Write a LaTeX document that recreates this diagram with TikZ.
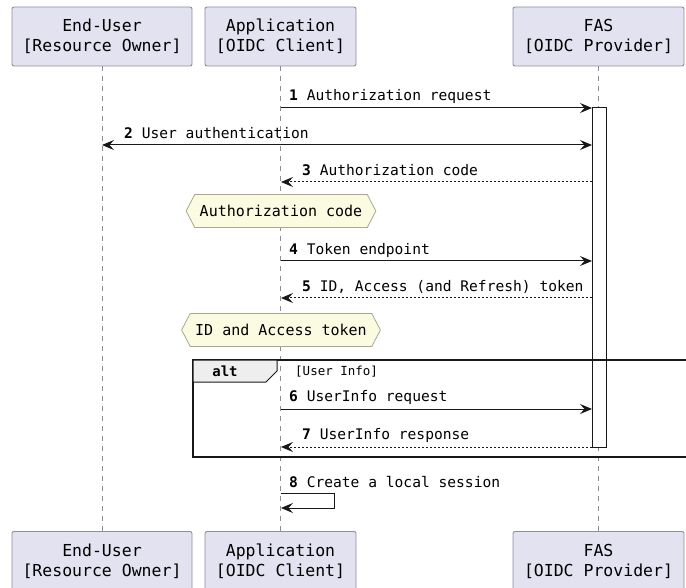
\documentclass[tikz,border=0pt]{standalone}
\usepackage{fontspec}
\setmonofont{DejaVu Sans Mono}
\usepackage{xcolor}
\usetikzlibrary{positioning,arrows.meta,shapes.symbols}
\definecolor{partbg}{HTML}{E2E2F0}
\definecolor{partbd}{HTML}{8E8E98}
\definecolor{notebg}{HTML}{FBFBE2}
\definecolor{notebd}{HTML}{A8A890}
\definecolor{tabbg}{HTML}{EEEEEE}
\definecolor{ink}{HTML}{181818}

\begin{document}
\begin{tikzpicture}[x=1pt, y=-1pt,
  seqtip/.tip={Stealth[length=12pt,width=10pt,inset=4.5pt]},
  actor/.style={draw=partbd, fill=partbg, rounded corners=2pt, align=center, inner sep=0pt,
    line width=0.9pt, minimum height=59pt, font=\ttfamily\fontsize{16.5}{20}\selectfont},
  lifeline/.style={draw=partbd, line width=0.8pt, dash pattern=on 5pt off 5pt},
  msg/.style={draw=ink, line width=1pt, -seqtip},
  reply/.style={msg, dash pattern=on 2pt off 2pt},
  lbl/.style={anchor=west, inner sep=0pt, font=\ttfamily\fontsize{14.6}{17}\selectfont},
  hnote/.style={signal, signal to=west and east, signal pointer angle=125, draw=notebd, fill=notebg,
    line width=0.8pt, inner xsep=5pt, minimum height=33pt, font=\ttfamily\fontsize{15}{18}\selectfont}]
\useasboundingbox (0,0) rectangle (686,588);
% participants, top and bottom
\node[actor, minimum width=180pt] (eu)  at (102,36.5)   {End-User\\{[Resource Owner]}};
\node[actor, minimum width=151pt] (app) at (280.5,36.5) {Application\\{[OIDC Client]}};
\node[actor, minimum width=171pt] (fas) at (598.5,36.5) {FAS\\{[OIDC Provider]}};
\node[actor, minimum width=180pt] (euB)  at (102,561)   {End-User\\{[Resource Owner]}};
\node[actor, minimum width=151pt] (appB) at (280.5,561) {Application\\{[OIDC Client]}};
\node[actor, minimum width=171pt] (fasB) at (598.5,561) {FAS\\{[OIDC Provider]}};
\draw[lifeline] (eu) -- (euB);
\draw[lifeline] (app) -- (appB);
\draw[lifeline] (fas) -- (fasB);
% activation of the provider
\node[draw=ink, fill=white, line width=1pt, inner sep=0pt, minimum width=14pt, minimum height=339pt] (act) at (599,277.5) {};
% alt frame
\draw[ink, line width=1.5pt] (193,360) rectangle (700,457);
\draw[ink, line width=1pt, fill=tabbg] (193,360) -- (277,360) -- (277,371) -- (266,382) -- (193,382) -- cycle;
\node[font=\ttfamily\bfseries\fontsize{14}{17}\selectfont, inner sep=0pt] (alt) at (225,371) {alt};
\node[anchor=west, inner sep=0pt, font=\ttfamily\fontsize{12.5}{15}\selectfont] (cond) at (295,372) {[User Info]};
% notes
\node[hnote] (n1) at (281,211) {Authorization code};
\node[hnote] (n2) at (281,330) {ID and Access token};
% messages
\foreach \n/\y in {1/108, 3/182, 4/261, 5/298, 6/409, 7/447, 8/493} {
  \coordinate (a\n) at (281,\y);
  \coordinate (f\n) at (592,\y);
}
\coordinate (u2) at (102,145);
\coordinate (f2) at (592,145);
\draw[msg] (a1) -- (f1);
\draw[msg, seqtip-seqtip] (u2) -- (f2);
\draw[reply] (f3) -- (a3);
\draw[msg] (a4) -- (f4);
\draw[reply] (f5) -- (a5);
\draw[msg] (a6) -- (f6);
\draw[reply] (f7) -- (a7);
\coordinate (b8) at (281,508);
\draw[msg] (a8) -- ++(53,0) |- (b8);
\node[lbl] (l1) at (289,96)  {\textbf{1} Authorization request};
\node[lbl] (l2) at (124,133) {\textbf{2} User authentication};
\node[lbl] (l3) at (302,170) {\textbf{3} Authorization code};
\node[lbl] (l4) at (289,250) {\textbf{4} Token endpoint};
\node[lbl] (l5) at (302,287) {\textbf{5} ID, Access (and Refresh) token};
\node[lbl] (l6) at (289,397) {\textbf{6} UserInfo request};
\node[lbl] (l7) at (302,435) {\textbf{7} UserInfo response};
\node[lbl] (l8) at (289,482) {\textbf{8} Create a local session};
\end{tikzpicture}
\end{document}
